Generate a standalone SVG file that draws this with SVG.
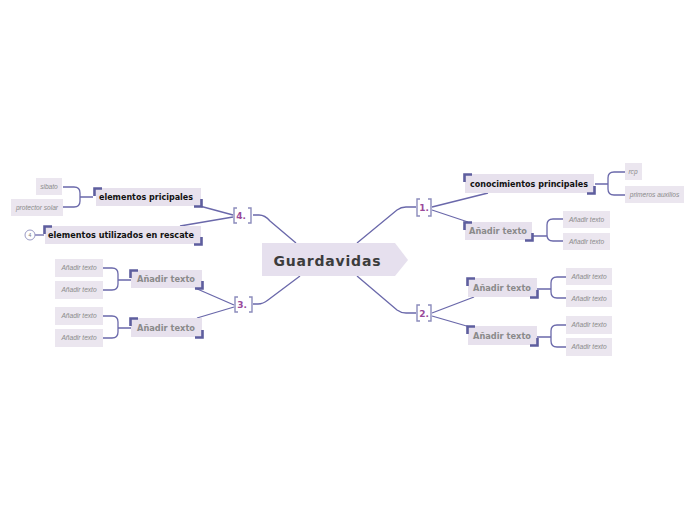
<svg xmlns="http://www.w3.org/2000/svg" width="696" height="520" viewBox="0 0 696 520">
<style>
.bg{fill:#ffffff}
.box{fill:#e7e1ed}
.leaf{fill:#ebe6ef}
.corner{fill:none;stroke:#5e5e9e;stroke-width:2.6}
.ln{fill:none;stroke:#6a68aa;stroke-width:1.3}
.br{fill:none;stroke:#8c8cbc;stroke-width:1.4}
.t1{font-family:"DejaVu Sans","Liberation Sans",sans-serif;font-weight:bold;font-size:9px;fill:#111111}
.t2{font-family:"DejaVu Sans","Liberation Sans",sans-serif;font-weight:bold;font-size:9px;fill:#8a8a8a}
.t3{font-family:"Liberation Sans",Arial,sans-serif;font-style:italic;font-size:6.6px;fill:#8a8a8a}
.num{font-family:"DejaVu Sans","Liberation Sans",sans-serif;font-weight:bold;font-size:9px;fill:#9a4a9a}
.main{font-family:"DejaVu Sans","Liberation Sans",sans-serif;font-weight:900;font-size:14px;fill:#3c3c3c}
</style>
<rect class="bg" x="0" y="0" width="696" height="520"/>

<g id="connectors">
  <path class="ln" d="M357,243 L397,210 Q401,207 406,207 L416,207"/>
  <path class="ln" d="M357,276 L397,310 Q401,313 406,313 L416,313"/>
  <path class="ln" d="M296,243 L270,221 Q265,215 259,215 L253,215"/>
  <path class="ln" d="M300,276 L268,300 Q263,304 258,304 L253,304"/>
  <path class="ln" d="M432,207 L488,193"/>
  <path class="ln" d="M432,210 L468,222"/>
  <path class="ln" d="M432,313 L474,297"/>
  <path class="ln" d="M432,316 L470,327"/>
  <path class="ln" d="M233,215 L196,205"/>
  <path class="ln" d="M233,217 L180,226"/>
  <path class="ln" d="M234,305 L195,288"/>
  <path class="ln" d="M234,307 L197,318"/>
  <path class="ln" d="M595,184 H608 M625,172 H614 Q608,172 608,178 V189 Q608,195 614,195 H625"/>
  <path class="ln" d="M533,236 H547 M563,219 H553 Q547,219 547,225 V235 Q547,241 553,241 H563"/>
  <path class="ln" d="M537,289 H551 M566,277 H557 Q551,277 551,283 V292 Q551,298 557,298 H566"/>
  <path class="ln" d="M537,337 H551 M566,325 H557 Q551,325 551,331 V341 Q551,347 557,347 H566"/>
  <path class="ln" d="M93,197 H80 M63,187 H74 Q80,187 80,193 V201 Q80,207 74,207 H63"/>
  <path class="ln" d="M131,280 H118 M103,268 H112 Q118,268 118,274 V284 Q118,290 112,290 H103"/>
  <path class="ln" d="M131,328 H118 M103,316 H112 Q118,316 118,322 V332 Q118,338 112,338 H103"/>
  <path class="ln" d="M35,235 H44"/>
</g>

<g id="central">
  <path d="M262,243 H395 L408,260 L395,276 H262 Z" fill="#e6e0ee"/>
  <text class="main" x="327" y="266" text-anchor="middle" textLength="107" lengthAdjust="spacing">Guardavidas</text>
</g>

<g id="n1">
  <path class="br" d="M420,199 H417 V216 H420 M428,199 H431 V216 H428"/>
  <text class="num" x="424" y="211" text-anchor="middle">1.</text>
</g>
<g id="n2">
  <path class="br" d="M420,305 H417 V321 H420 M428,305 H431 V321 H428"/>
  <text class="num" x="424" y="317" text-anchor="middle">2.</text>
</g>
<g id="n4">
  <path class="br" d="M237,208 H234 V223 H237 M248,208 H251 V223 H248"/>
  <text class="num" x="241" y="219" text-anchor="middle">4.</text>
</g>
<g id="n3">
  <path class="br" d="M238,297 H235 V312 H238 M249,297 H252 V312 H249"/>
  <text class="num" x="242" y="308" text-anchor="middle">3.</text>
</g>

<g id="c1a">
  <rect class="box" x="465" y="174" width="129" height="19"/>
  <path class="corner" d="M464.5,182 V174.5 H472"/>
  <path class="corner" d="M587,193.5 H594.5 V186"/>
  <text class="t1" x="529" y="187" text-anchor="middle" textLength="118" lengthAdjust="spacingAndGlyphs">conocimientos principales</text>
</g>
<g id="c1b">
  <rect class="box" x="465" y="222" width="67" height="18"/>
  <path class="corner" d="M464.5,230 V222.5 H472"/>
  <path class="corner" d="M525,240.5 H532.5 V233"/>
  <text class="t2" x="498" y="234" text-anchor="middle" textLength="58" lengthAdjust="spacingAndGlyphs">Añadir texto</text>
</g>
<g id="c2a">
  <rect class="box" x="468" y="278" width="69" height="19"/>
  <path class="corner" d="M467.5,286 V278.5 H475"/>
  <path class="corner" d="M530,297.5 H537.5 V290"/>
  <text class="t2" x="502" y="291" text-anchor="middle" textLength="58" lengthAdjust="spacingAndGlyphs">Añadir texto</text>
</g>
<g id="c2b">
  <rect class="box" x="468" y="326" width="69" height="19"/>
  <path class="corner" d="M467.5,334 V326.5 H475"/>
  <path class="corner" d="M530,345.5 H537.5 V338"/>
  <text class="t2" x="502" y="339" text-anchor="middle" textLength="58" lengthAdjust="spacingAndGlyphs">Añadir texto</text>
</g>
<g id="c4a">
  <rect class="box" x="96" y="188" width="105" height="18"/>
  <path class="corner" d="M94.5,196 V188.5 H102"/>
  <path class="corner" d="M194,206.5 H201.5 V199"/>
  <text class="t1" x="146" y="200" text-anchor="middle" textLength="94" lengthAdjust="spacingAndGlyphs">elementos pricipales</text>
</g>
<g id="c4b">
  <rect class="box" x="45" y="226" width="156" height="18"/>
  <path class="corner" d="M44.5,234 V226.5 H52"/>
  <path class="corner" d="M194,244.5 H201.5 V237"/>
  <text class="t1" x="121" y="238" text-anchor="middle" textLength="146" lengthAdjust="spacingAndGlyphs">elementos utilizados en rescate</text>
  <circle cx="30" cy="235" r="5" fill="#ffffff" stroke="#9a9ac4" stroke-width="1"/>
  <text x="30" y="237" text-anchor="middle" font-family="Liberation Sans,Arial,sans-serif" font-size="5" fill="#777777">4</text>
</g>
<g id="c3a">
  <rect class="box" x="131" y="270" width="71" height="18"/>
  <path class="corner" d="M130.5,278 V270.5 H138"/>
  <path class="corner" d="M195,288.5 H202.5 V281"/>
  <text class="t2" x="166" y="282" text-anchor="middle" textLength="58" lengthAdjust="spacingAndGlyphs">Añadir texto</text>
</g>
<g id="c3b">
  <rect class="box" x="131" y="318" width="71" height="19"/>
  <path class="corner" d="M130.5,326 V318.5 H138"/>
  <path class="corner" d="M195,337.5 H202.5 V330"/>
  <text class="t2" x="166" y="331" text-anchor="middle" textLength="58" lengthAdjust="spacingAndGlyphs">Añadir texto</text>
</g>

<g id="l_rcp"><rect class="leaf" x="625" y="163" width="17" height="17"/><text class="t3" x="633" y="174" text-anchor="middle">rcp</text></g>
<g id="l_pa"><rect class="leaf" x="625" y="186" width="59" height="17"/><text class="t3" x="654.5" y="197" text-anchor="middle">primeros auxilios</text></g>
<g id="l1a"><rect class="leaf" x="563" y="211" width="47" height="17"/><text class="t3" x="586.5" y="222" text-anchor="middle">Añadir texto</text></g>
<g id="l1b"><rect class="leaf" x="563" y="233" width="47" height="17"/><text class="t3" x="586.5" y="244" text-anchor="middle">Añadir texto</text></g>
<g id="l2a"><rect class="leaf" x="566" y="268" width="46" height="17"/><text class="t3" x="589" y="279" text-anchor="middle">Añadir texto</text></g>
<g id="l2b"><rect class="leaf" x="566" y="290" width="46" height="17"/><text class="t3" x="589" y="301" text-anchor="middle">Añadir texto</text></g>
<g id="l2c"><rect class="leaf" x="566" y="316" width="46" height="18"/><text class="t3" x="589" y="327" text-anchor="middle">Añadir texto</text></g>
<g id="l2d"><rect class="leaf" x="566" y="338" width="46" height="18"/><text class="t3" x="589" y="349" text-anchor="middle">Añadir texto</text></g>
<g id="l_sib"><rect class="leaf" x="36" y="178" width="26" height="17"/><text class="t3" x="49" y="189" text-anchor="middle">sibato</text></g>
<g id="l_ps"><rect class="leaf" x="11" y="199" width="52" height="17"/><text class="t3" x="37" y="210" text-anchor="middle">protector solar</text></g>
<g id="l3a"><rect class="leaf" x="55" y="259" width="48" height="18"/><text class="t3" x="79" y="270" text-anchor="middle">Añadir texto</text></g>
<g id="l3b"><rect class="leaf" x="55" y="281" width="48" height="18"/><text class="t3" x="79" y="292" text-anchor="middle">Añadir texto</text></g>
<g id="l3c"><rect class="leaf" x="55" y="307" width="48" height="18"/><text class="t3" x="79" y="318" text-anchor="middle">Añadir texto</text></g>
<g id="l3d"><rect class="leaf" x="55" y="329" width="48" height="18"/><text class="t3" x="79" y="340" text-anchor="middle">Añadir texto</text></g>
</svg>
